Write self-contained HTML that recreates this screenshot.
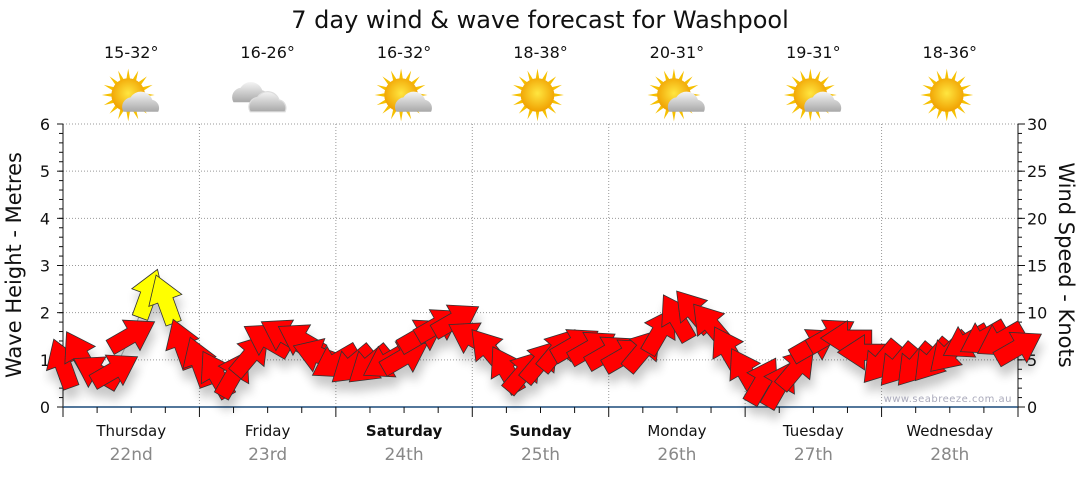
<!DOCTYPE html>
<html><head><meta charset="utf-8"><style>
body{margin:0;background:#fff;font-family:"Liberation Sans","DejaVu Sans",sans-serif}
svg text{font-family:"DejaVu Sans","Liberation Sans",sans-serif}
</style></head><body>
<svg id="c" width="1080" height="475" viewBox="0 0 1080 475" xmlns="http://www.w3.org/2000/svg">
<defs>
<filter id="sh" x="-50%" y="-50%" width="200%" height="200%"><feGaussianBlur in="SourceAlpha" stdDeviation="5"/><feOffset dx="2" dy="10"/><feComponentTransfer><feFuncA type="linear" slope="0.22"/></feComponentTransfer><feMerge><feMergeNode/><feMergeNode in="SourceGraphic"/></feMerge></filter>
<radialGradient id="sun" cx="50%" cy="45%" r="55%"><stop offset="0" stop-color="#ffe640"/><stop offset="1" stop-color="#f0a000"/></radialGradient>
<linearGradient id="cl" x1="0" y1="0" x2="0" y2="1"><stop offset="0" stop-color="#f4f4f4"/><stop offset="1" stop-color="#a8a8a8"/></linearGradient>
</defs>
<text x="540" y="28" text-anchor="middle" font-size="24" fill="#111">7 day wind &amp; wave forecast for Washpool</text>
<g id="grid"></g><g id="axes"></g><g id="icons"></g><g id="marks" filter="url(#sh)"></g>
<text x="1012" y="402" text-anchor="end" font-size="10" fill="#aab" letter-spacing="0.5">www.seabreeze.com.au</text>
<text transform="translate(21,265) rotate(-90)" text-anchor="middle" font-size="21" fill="#111">Wave Height - Metres</text>
<text transform="translate(1059,265) rotate(90)" text-anchor="middle" font-size="21" fill="#111">Wind Speed - Knots</text>
</svg>
<script>
const days=["Thursday","Friday","Saturday","Sunday","Monday","Tuesday","Wednesday"];
const dates=["22nd","23rd","24th","25th","26th","27th","28th"];
const temps=["15-32°","16-26°","16-32°","18-38°","20-31°","19-31°","18-36°"];
const icons=["partly","cloudy","partly","sunny","partly","partly","sunny"];
const waveTicks=[0,1,2,3,4,5,6];
const windTicks=[0,5,10,15,20,25,30];
const windSpeed=[4.5,5.5,3.7,3.9,7.6,11.9,11.3,6.6, 4.7,3.4,3.4,5.5,7.1,7.6,7.1,5.5, 4.8,4.5,4.5,4.8,5.3,7.6,8.7,9.2, 7.3,6.0,3.9,3.7,4.8,6.0,6.6,6.3, 5.8,5.5,6.0,8.0,9.4,10.1,8.7,6.0, 3.7,2.7,2.3,4.1,6.6,7.6,7.3,5.8, 4.8,4.5,4.5,5.0,5.8,6.9,7.3,7.1,6.3];
const windDir=[340,330,300,60,60,20,340,340, 340,330,30,40,300,300,300,290, 240,230,230,240,60,60,60,60, 300,320,330,40,40,40,60,60, 60,60,40,30,330,320,320,330, 330,30,30,40,60,60,270,270, 220,220,220,220,225,240,240,240,60];
const NS="http://www.w3.org/2000/svg";
const X0=63,X1=1018,Y0=407,YT=124;
const dayW=(X1-X0)/7;
const xAt=i=>X0+i*dayW/8;
const yWave=h=>Y0-h*(Y0-YT)/6;
const yWind=k=>Y0-k*(Y0-YT)/30;
function mk(t,a,p){const e=document.createElementNS(NS,t);for(const k in a)e.setAttribute(k,a[k]);(p||document.getElementById('c')).appendChild(e);return e;}
const grid=document.getElementById('grid'),axes=document.getElementById('axes'),ic=document.getElementById('icons'),marks=document.getElementById('marks');
waveTicks.forEach(h=>{if(h>0){const l=mk('line',{x1:X0,x2:X1,y1:yWave(h),y2:yWave(h),stroke:'#999','stroke-dasharray':'1,2'},grid);}
 const t=mk('text',{x:50,y:yWave(h)+6,'text-anchor':'end','font-size':16,fill:'#111'},axes);t.textContent=h;
 mk('line',{x1:X0-6,x2:X0,y1:yWave(h),y2:yWave(h),stroke:'#111'},axes);});
for(let m=0;m<30;m++){const y=Y0-m*(Y0-YT)/30;mk('line',{x1:X0-4,x2:X0,y1:y,y2:y,stroke:'#111'},axes);mk('line',{x1:X1,x2:X1+4,y1:y,y2:y,stroke:'#111'},axes);}
windTicks.forEach(k=>{const t=mk('text',{x:1027,y:yWind(k)+6,'font-size':16,fill:'#111'},axes);t.textContent=k;mk('line',{x1:X1,x2:X1+7,y1:yWind(k),y2:yWind(k),stroke:'#111'},axes);});
mk('line',{x1:X0,x2:X0,y1:YT,y2:Y0,stroke:'#111'},axes);
mk('line',{x1:X1,x2:X1,y1:YT,y2:Y0,stroke:'#111'},axes);
mk('line',{x1:X0,x2:X1,y1:Y0,y2:Y0,stroke:'#1a4a7a','stroke-width':1.5},axes);
for(let q=0;q<=28;q++){const x=X0+q*dayW/4;mk('line',{x1:x,x2:x,y1:Y0,y2:Y0+(q%4==0?10:6),stroke:'#111'},axes);}
days.forEach((d,i)=>{const cx=X0+(i+0.5)*dayW;
 if(i>0){const l=mk('line',{x1:X0+i*dayW,x2:X0+i*dayW,y1:YT,y2:Y0,stroke:'#999','stroke-dasharray':'1,2'},grid);}
 const t=mk('text',{x:cx,y:436,'text-anchor':'middle','font-size':15,fill:'#111','font-weight':(i==2||i==3)?'bold':'normal'},axes);t.textContent=d;
 const t2=mk('text',{x:cx,y:460,'text-anchor':'middle','font-size':17,fill:'#888'},axes);t2.textContent=dates[i];
 const t3=mk('text',{x:cx,y:58,'text-anchor':'middle','font-size':16,fill:'#111'},ic);t3.textContent=temps[i];
 const g=mk('g',{transform:`translate(${cx-3},95) scale(1.2)`},ic);
 if(icons[i]!='cloudy'){for(let r=0;r<16;r++){const a=r*Math.PI/8;mk('polygon',{points:`${Math.cos(a-0.15)*12},${Math.sin(a-0.15)*12} ${Math.cos(a)*22},${Math.sin(a)*22} ${Math.cos(a+0.15)*12},${Math.sin(a+0.15)*12}`,fill:'#f6c000'},g);}mk('circle',{r:14,fill:'url(#sun)'},g);}
 if(icons[i]=='partly'){mk('path',{d:'M-4,14 a8,8 0 0 1 6,-12 a10,10 0 0 1 18,2 a7,7 0 0 1 5,10 z',fill:'url(#cl)'},g);}
 if(icons[i]=='cloudy'){mk('path',{d:'M-26,6 a8,8 0 0 1 6,-12 a10,10 0 0 1 18,2 a7,7 0 0 1 5,10 z',fill:'url(#cl)'},g);mk('path',{d:'M-12,14 a8,8 0 0 1 6,-12 a10,10 0 0 1 18,2 a7,7 0 0 1 5,10 z',fill:'url(#cl)',stroke:'#ddd'},g);}
});
let pts=windSpeed.map((k,i)=>xAt(i)+','+yWind(k)).join(' ');
const pl=mk('polyline',{points:pts,fill:'none',stroke:'#999','stroke-width':1.2},marks);


windSpeed.forEach((k,i)=>{const x=xAt(i),y=yWind(k);
 const a=mk('polygon',{points:'-6,18 6,18 6,0 13,0 0,-20 -13,0 -6,0',fill:k>11?'#ffff00':'#ff0000',stroke:'#333','stroke-width':0.6,transform:`translate(${x},${y}) rotate(${windDir[i]}) scale(1.35)`},marks);
 
 
});
</script>
</body></html>
